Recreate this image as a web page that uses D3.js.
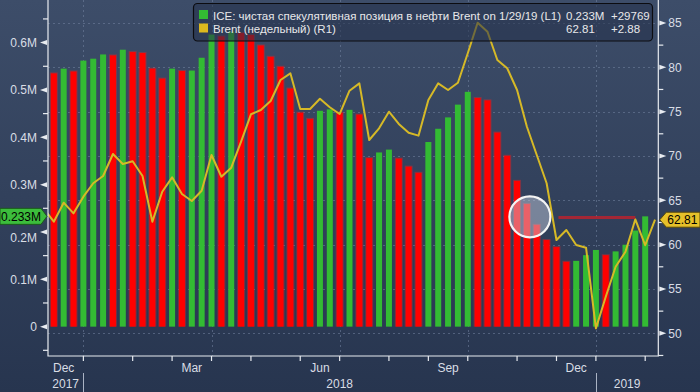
<!DOCTYPE html>
<html>
<head>
<meta charset="utf-8">
<script src="https://cdn.jsdelivr.net/npm/d3@7"></script>
<style>
  html, body { margin: 0; padding: 0; background: #2e3d57; }
  svg { display: block; }
  text { font-family: "Liberation Sans", Arial, sans-serif; }
</style>
</head>
<body>
<svg id="chart" width="700" height="392"></svg>
<script>
// ICE net speculative position in Brent (weekly, millions) - bars, left axis
var positions = [0.535, 0.545, 0.539, 0.562, 0.566, 0.575, 0.573, 0.585, 0.580, 0.578,
                 0.545, 0.524, 0.545, 0.540, 0.541, 0.568, 0.617, 0.613, 0.623, 0.620,
                 0.616, 0.594, 0.570, 0.549, 0.503, 0.452, 0.439, 0.456, 0.459, 0.452,
                 0.458, 0.448, 0.356, 0.368, 0.374, 0.355, 0.338, 0.325, 0.390, 0.418,
                 0.442, 0.469, 0.496, 0.483, 0.478, 0.410, 0.361, 0.308, 0.259, 0.215,
                 0.183, 0.168, 0.137, 0.139, 0.151, 0.162, 0.151, 0.159, 0.173, 0.203,
                 0.233];
var prevPosition = 0.552; // week before the first bar, sets first bar colour

// Brent weekly close - line, right axis, starts one week before the first bar
var brentStart = -1;
var brent = [64.02, 62.59, 64.73, 63.53, 65.41, 66.92, 67.74, 70.22, 69.09, 69.40,
             67.74, 62.59, 65.97, 67.59, 65.71, 64.92, 66.08, 70.11, 67.66, 68.68,
             71.61, 74.70, 75.18, 76.20, 78.57, 79.32, 75.30, 75.30, 76.46, 75.49,
             74.73, 77.36, 78.19, 71.80, 73.12, 74.99, 73.61, 72.62, 72.29, 76.31,
             78.19, 77.44, 78.26, 81.58, 85.03, 84.01, 80.82, 79.89, 77.44, 73.30,
             70.11, 66.92, 60.52, 61.65, 59.96, 59.65, 50.56, 54.13, 57.51, 59.20,
             62.86, 59.93, 62.81];

// month boundaries (week index of last week in month) and month names in between
var monthTicks = [-1, 3, 8, 12, 16, 20, 25, 29, 34, 38, 42, 47, 51, 55, 60];
var monthNames = ["Dec", "Jan", "Feb", "Mar", "Apr", "May", "Jun", "Jul", "Aug", "Sep", "Oct", "Nov", "Dec", "Jan"];
var shownMonths = ["Dec", "Mar", "Jun", "Sep"];
var yearBreaks = [3, 55];
var yearLabels = ["2017", "2018", "2019"];

var leftTicks = [0, 0.1, 0.2, 0.3, 0.4, 0.5, 0.6];
var leftMinor = [-0.05, 0.05, 0.15, 0.25, 0.35, 0.45, 0.55, 0.65];
var rightTicks = [50, 55, 60, 65, 70, 75, 80, 85];
var rightMinor = [47.5, 52.5, 57.5, 62.5, 67.5, 72.5, 77.5, 82.5];

var legendRows = [
    {name: "ICE: чистая спекулятивная позиция в нефти Brent on 1/29/19 (L1)", value: "0.233M", change: "+29769", color: "#33bb33"},
    {name: "Brent (недельный) (R1)", value: "62.81", change: "+2.88", color: "#dcb91e"}
];

// annotation: circle round the Oct/Nov bars and a level line at the latest value
var markIdx = 48.3, markVal = 0.232;
var levelFrom = 51.2, levelTo = 59, levelVal = 0.2306;

var W = 700, H = 392;
var L = 48, R = 658.3, T = 0, B = 356;

var svg = d3.select("#chart");
var defs = svg.append("defs");

var bg = defs.append("linearGradient").attr("id", "bg")
    .attr("x1", 0).attr("y1", 0).attr("x2", 0).attr("y2", 1);
bg.append("stop").attr("offset", "0%").attr("stop-color", "#3d4d69");
bg.append("stop").attr("offset", "100%").attr("stop-color", "#27354f");

defs.append("clipPath").attr("id", "plotClip")
    .append("rect").attr("x", L).attr("y", T).attr("width", R - L).attr("height", B - T);

svg.append("rect").attr("width", W).attr("height", H).attr("fill", "url(#bg)");

var x = d3.scaleLinear().domain([-0.59, 61.33]).range([L, R]);
var yL = d3.scaleLinear().domain([-0.062, 0.690]).range([B, T]);
var yR = d3.scaleLinear().domain([47.44, 87.59]).range([B, T]);

// gridlines
var grid = svg.append("g").attr("stroke", "#7384a0").attr("stroke-opacity", 0.55)
    .attr("stroke-dasharray", "2,3").attr("stroke-width", 1);
grid.selectAll(".hg").data(rightTicks).enter().append("line")
    .attr("x1", L).attr("x2", R)
    .attr("y1", function (d) { return Math.round(yR(d)) + 0.5; })
    .attr("y2", function (d) { return Math.round(yR(d)) + 0.5; });
var qEnds = monthTicks.filter(function (t, i) {
    return i > 0 && shownMonths.indexOf(monthNames[i - 1]) >= 0;
});
grid.selectAll(".vg").data(qEnds).enter().append("line")
    .attr("y1", T).attr("y2", B)
    .attr("x1", function (d) { return Math.round(x(d)) + 0.5; })
    .attr("x2", function (d) { return Math.round(x(d)) + 0.5; });

// bars
var plot = svg.append("g").attr("clip-path", "url(#plotClip)");
var barW = 6;
var barData = positions.map(function (v, i) {
    var prev = i === 0 ? prevPosition : positions[i - 1];
    return {i: i, v: v, up: v > prev};
});
plot.selectAll(".glow").data(barData.filter(function (d) { return !d.up; })).enter().append("rect")
    .attr("x", function (d) { return x(d.i) - barW / 2 - 1; })
    .attr("y", function (d) { return yL(d.v) - 1; })
    .attr("width", barW + 2)
    .attr("height", function (d) { return yL(0) - yL(d.v) + 1; })
    .attr("fill", "#ff2020").attr("opacity", 0.35);
plot.selectAll(".bar").data(barData).enter().append("rect")
    .attr("x", function (d) { return x(d.i) - barW / 2; })
    .attr("y", function (d) { return yL(d.v); })
    .attr("width", barW)
    .attr("height", function (d) { return yL(0) - yL(d.v); })
    .attr("fill", function (d) { return d.up ? "#33bb33" : "#ff0000"; });

// brent line
var line = d3.line()
    .x(function (d, i) { return x(brentStart + i); })
    .y(function (d) { return yR(d); });
plot.append("path").datum(brent)
    .attr("d", line)
    .attr("fill", "none")
    .attr("stroke", "#d6b927")
    .attr("stroke-width", 2)
    .attr("stroke-linejoin", "round");

// annotations
svg.append("line")
    .attr("x1", x(levelFrom)).attr("x2", x(levelTo))
    .attr("y1", yL(levelVal)).attr("y2", yL(levelVal))
    .attr("stroke", "#c0202c").attr("stroke-opacity", 0.8).attr("stroke-width", 3);
svg.append("circle")
    .attr("cx", x(markIdx)).attr("cy", yL(markVal)).attr("r", 20.5)
    .attr("fill", "#d0d6e6").attr("fill-opacity", 0.45)
    .attr("stroke", "#f4f4f4").attr("stroke-width", 2.2);

// axes frame
var axisCol = "#e8ebf0";
var labelCol = "#d9dde5";
var frame = svg.append("g").attr("stroke", axisCol).attr("stroke-width", 1.2).attr("fill", "none");
frame.append("path").attr("d", "M" + L + "," + T + "V" + B + "H" + R + "V" + T);

// left axis ticks
svg.selectAll(".lt").data(leftTicks).enter().append("path")
    .attr("d", function (d) { var y = yL(d); return "M" + (L - 1) + "," + (y - 2.5) + "L" + (L - 8) + "," + y + "L" + (L - 1) + "," + (y + 2.5) + "Z"; })
    .attr("fill", axisCol);
svg.selectAll(".lm").data(leftMinor).enter().append("line")
    .attr("x1", L - 5).attr("x2", L)
    .attr("y1", function (d) { return yL(d); }).attr("y2", function (d) { return yL(d); })
    .attr("stroke", axisCol).attr("stroke-width", 1.2);
svg.selectAll(".ll").data(leftTicks).enter().append("text")
    .attr("x", L - 11)
    .attr("y", function (d) { return d === 0.2 ? yL(d) + 10 : yL(d) + 4.5; })
    .attr("text-anchor", "end")
    .attr("font-size", 12)
    .attr("fill", labelCol)
    .text(function (d) { return d === 0 ? "0" : d3.format(".1f")(d) + "M"; });

// right axis ticks
svg.selectAll(".rt").data(rightTicks).enter().append("path")
    .attr("d", function (d) { var y = yR(d); return "M" + (R + 1) + "," + (y - 2.5) + "L" + (R + 8) + "," + y + "L" + (R + 1) + "," + (y + 2.5) + "Z"; })
    .attr("fill", axisCol);
svg.selectAll(".rm").data(rightMinor).enter().append("line")
    .attr("x1", R).attr("x2", R + 5)
    .attr("y1", function (d) { return yR(d); }).attr("y2", function (d) { return yR(d); })
    .attr("stroke", axisCol).attr("stroke-width", 1.2);
svg.selectAll(".rl").data(rightTicks).enter().append("text")
    .attr("x", R + 10)
    .attr("y", function (d) { return yR(d) + 4.5; })
    .attr("font-size", 12)
    .attr("fill", labelCol)
    .text(function (d) { return d; });

// bottom axis
svg.selectAll(".xt").data(monthTicks.slice(1)).enter().append("line")
    .attr("x1", function (d) { return x(d); }).attr("x2", function (d) { return x(d); })
    .attr("y1", B).attr("y2", B + 5)
    .attr("stroke", axisCol).attr("stroke-width", 1.2);
var monthLab = monthNames.map(function (m, i) {
    return {name: m, at: (monthTicks[i] + monthTicks[i + 1]) / 2};
}).filter(function (d) { return shownMonths.indexOf(d.name) >= 0; });
svg.selectAll(".xl").data(monthLab).enter().append("text")
    .attr("x", function (d) { return x(d.at); })
    .attr("y", 372)
    .attr("text-anchor", "middle")
    .attr("font-size", 12)
    .attr("fill", labelCol)
    .text(function (d) { return d.name; });
svg.selectAll(".yb").data(yearBreaks).enter().append("line")
    .attr("x1", function (d) { return Math.round(x(d)) + 0.5; }).attr("x2", function (d) { return Math.round(x(d)) + 0.5; })
    .attr("y1", 373).attr("y2", 392)
    .attr("stroke", "#aab3c4").attr("stroke-width", 1);
var edges = [x.domain()[0]].concat(yearBreaks).concat([x.domain()[1]]);
svg.selectAll(".yl").data(yearLabels).enter().append("text")
    .attr("x", function (d, i) { return x((edges[i] + edges[i + 1]) / 2); })
    .attr("y", 388)
    .attr("text-anchor", "middle")
    .attr("font-size", 12)
    .attr("fill", labelCol)
    .text(function (d) { return d; });

// value tags at the axes
var lastPos = positions[positions.length - 1];
var lastBrent = brent[brent.length - 1];
var ly = yL(lastPos);
svg.append("path")
    .attr("d", "M0," + (ly - 8) + "H" + (L - 7) + "L" + (L - 1) + "," + ly + "L" + (L - 7) + "," + (ly + 8) + "H0Z")
    .attr("fill", "#3cbd3c").attr("stroke", "#1c5a1c").attr("stroke-width", 1);
svg.append("text").attr("x", 1).attr("y", ly + 4.5)
    .attr("font-size", 12).attr("fill", "#000").text(d3.format(".3f")(lastPos) + "M");
var ry = yR(lastBrent);
svg.append("path")
    .attr("d", "M" + (R + 1.5) + "," + ry + "L" + (R + 8) + "," + (ry - 7.5) + "H" + W + "V" + (ry + 7.5) + "H" + (R + 8) + "Z")
    .attr("fill", "#e6c12a").attr("stroke", "#5a4a0c").attr("stroke-width", 1);
svg.append("text").attr("x", R + 9).attr("y", ry + 4.5)
    .attr("font-size", 12).attr("fill", "#000").text(d3.format(".2f")(lastBrent));

// legend
var lg = svg.append("g");
lg.append("rect")
    .attr("x", 193.5).attr("y", 3.5).attr("width", 459).attr("height", 37.5).attr("rx", 4)
    .attr("fill", "#25324a").attr("fill-opacity", 0.55)
    .attr("stroke", "#0c0c10").attr("stroke-width", 1.2);
var rows = lg.selectAll(".row").data(legendRows).enter().append("g")
    .attr("transform", function (d, i) { return "translate(0," + (i * 13.5) + ")"; });
rows.append("rect").attr("x", 199).attr("y", 10).attr("width", 9).attr("height", 9)
    .attr("fill", function (d) { return d.color; });
rows.append("text").attr("x", 213).attr("y", 19.5).attr("font-size", 11.5).attr("fill", "#e8e8ea")
    .text(function (d) { return d.name; });
rows.append("text").attr("x", 566).attr("y", 19.5).attr("font-size", 11.5).attr("fill", "#e8e8ea")
    .text(function (d) { return d.value; });
rows.append("text").attr("x", 611).attr("y", 19.5).attr("font-size", 11.5).attr("fill", "#e8e8ea")
    .text(function (d) { return d.change; });
</script>
</body>
</html>
